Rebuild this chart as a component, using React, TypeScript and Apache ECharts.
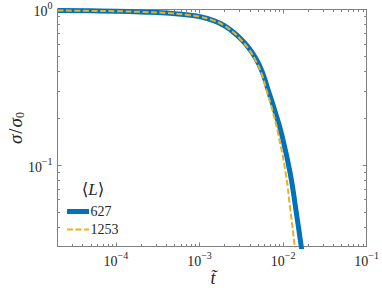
import React, { useEffect, useRef } from "react";
import * as echarts from "echarts";

// (log-log axes)
const tBlue = [2e-5, 5e-5, 1e-4, 2e-4, 4e-4, 7e-4, 1e-3, 1.5e-3, 2e-3, 2.5e-3, 3e-3, 3.8e-3, 4.66e-3, 5.6e-3, 6.64e-3, 8e-3, 9.55e-3, 0.01219, 0.01435, 0.01649, 0.0175];
const sBlue = [0.985, 0.98, 0.975, 0.965, 0.95, 0.925, 0.9, 0.845, 0.785, 0.72, 0.66, 0.575, 0.49, 0.4, 0.303, 0.222, 0.16, 0.088, 0.05, 0.03, 0.024];
const tOrange = [2e-5, 5e-5, 1e-4, 2e-4, 4e-4, 7e-4, 1e-3, 1.5e-3, 2e-3, 2.5e-3, 3e-3, 3.8e-3, 4.6e-3, 5.5e-3, 6.34e-3, 7.5e-3, 8.71e-3, 0.01077, 0.01219, 0.01377, 0.0145];
const sOrange = [0.985, 0.98, 0.975, 0.965, 0.95, 0.925, 0.9, 0.845, 0.785, 0.72, 0.655, 0.565, 0.48, 0.39, 0.303, 0.222, 0.16, 0.088, 0.052, 0.03, 0.023];
const legendNames = ["627", "1253"];
const xMajorExp = [-4, -3, -2, -1];
const yMajorExp = [-1, 0];
const xMin = 2e-5;
const xMax = 0.1;
const yMin = 0.03;
const yMax = 1;

const BLUE = "#0072BD";
const ORANGE = "#EDB120";
const AXIS = "#808080";
const TEXT = "#262626";
const SERIF = "'Liberation Serif', 'DejaVu Serif', serif";

const lg = (v: number) => Math.log10(v);

function minorTicks(lo: number, hi: number): number[] {
  const out: number[] = [];
  for (let e = -6; e <= 1; e++) {
    for (let k = 2; k <= 9; k++) {
      const v = k * Math.pow(10, e);
      if (v >= lo && v <= hi) out.push(lg(v));
    }
  }
  return out;
}

const fmtExp = (v: number) => {
  const e = Math.round(v);
  const s = e < 0 ? "\u2212" + Math.abs(e) : String(e);
  return `{b|10}{s|${s}}`;
};

const rich = {
  b: { fontSize: 14, fontFamily: SERIF, color: TEXT, lineHeight: 18, verticalAlign: "bottom" },
  s: { fontSize: 10, fontFamily: SERIF, color: TEXT, lineHeight: 10, verticalAlign: "top" },
};

export default function App() {
  const ref = useRef<HTMLDivElement>(null);
  useEffect(() => {
    if (!ref.current) return;
    const chart = echarts.init(ref.current, null, { renderer: "svg" });
    const xLo = lg(xMin), xHi = lg(xMax), yLo = lg(yMin), yHi = lg(yMax);
    const xMinor = minorTicks(xMin, xMax);
    const yMinor = minorTicks(yMin, yMax);
    const mkX = (pos: string, major: boolean, label: boolean, line: boolean) => ({
      type: "value",
      min: xLo,
      max: xHi,
      position: pos,
      splitLine: { show: false },
      axisLine: { show: line, onZero: false, lineStyle: { color: AXIS, width: 1 } },
      axisTick: {
        show: true,
        inside: true,
        length: major ? 4 : 2.5,
        lineStyle: { color: AXIS, width: 1 },
        customValues: major ? xMajorExp : xMinor,
      },
      axisLabel: label
        ? { show: true, color: TEXT, customValues: xMajorExp, formatter: fmtExp, rich, margin: 4, showMaxLabel: true, showMinLabel: true }
        : { show: false },
    });
    const mkY = (pos: string, major: boolean, label: boolean, line: boolean) => ({
      type: "value",
      min: yLo,
      max: yHi,
      position: pos,
      splitLine: { show: false },
      axisLine: { show: line, onZero: false, lineStyle: { color: AXIS, width: 1 } },
      axisTick: {
        show: true,
        inside: true,
        length: major ? 4 : 2.5,
        lineStyle: { color: AXIS, width: 1 },
        customValues: major ? yMajorExp : yMinor,
      },
      axisLabel: label
        ? { show: true, color: TEXT, customValues: yMajorExp, formatter: fmtExp, rich, margin: 5, showMaxLabel: true, showMinLabel: true }
        : { show: false },
    });
    chart.setOption({
      animation: false,
      grid: { left: 57.5, right: 13.5, top: 9.5, bottom: 41.5, containLabel: false },
      xAxis: [
        mkX("bottom", true, true, true),
        mkX("bottom", false, false, false),
        mkX("top", true, false, true),
        mkX("top", false, false, false),
      ],
      yAxis: [
        mkY("left", true, true, true),
        mkY("left", false, false, false),
        mkY("right", true, false, true),
        mkY("right", false, false, false),
      ],
      series: [
        {
          name: legendNames[0],
          type: "line",
          smooth: 0.5,
          showSymbol: false,
          symbol: "none",
          clip: true,
          lineStyle: { color: BLUE, width: 5 },
          data: tBlue.map((t, i) => [lg(t), lg(sBlue[i])]),
        },
        {
          name: legendNames[1],
          type: "line",
          smooth: 0.5,
          showSymbol: false,
          symbol: "none",
          clip: true,
          lineStyle: { color: ORANGE, width: 2, type: [6, 2.5] },
          data: tOrange.map((t, i) => [lg(t), lg(sOrange[i])]),
        },
      ],
      graphic: [
        {
          type: "text",
          x: 15,
          y: 128,
          rotation: Math.PI / 2,
          style: {
            text: "{i|σ}{n|/}{i|σ}{sub|0}",
            align: "center",
            verticalAlign: "middle",
            rich: {
              i: { fontSize: 19, fontFamily: SERIF, fontStyle: "italic", fill: TEXT, lineHeight: 22, verticalAlign: "middle" },
              n: { fontSize: 19, fontFamily: SERIF, fill: TEXT, lineHeight: 22, verticalAlign: "middle", padding: [0, 1, 0, 1] },
              sub: { fontSize: 12, fontFamily: SERIF, fill: TEXT, lineHeight: 12, verticalAlign: "bottom" },
            },
          },
        },
        {
          type: "text",
          x: 213,
          y: 278,
          style: {
            text: "t\u0303",
            align: "center",
            verticalAlign: "middle",
            font: `italic 18px ${SERIF}`,
            fill: TEXT,
          },
        },
        {
          type: "text",
          x: 93,
          y: 189,
          style: {
            text: "{n|\u27E8}{i|L}{n|\u27E9}",
            align: "center",
            verticalAlign: "middle",
            rich: {
              n: { fontSize: 17, fontFamily: "'DejaVu Serif', serif", fill: TEXT },
              i: { fontSize: 17, fontFamily: SERIF, fontStyle: "italic", fill: TEXT },
            },
          },
        },
        {
          type: "line",
          shape: { x1: 67, y1: 211.5, x2: 89, y2: 211.5 },
          style: { stroke: BLUE, lineWidth: 5 },
        },
        {
          type: "text",
          x: 90.5,
          y: 211.5,
          style: { text: legendNames[0], verticalAlign: "middle", font: `14px ${SERIF}`, fill: TEXT },
        },
        {
          type: "line",
          shape: { x1: 67, y1: 229.5, x2: 89, y2: 229.5 },
          style: { stroke: ORANGE, lineWidth: 2, lineDash: [6, 2.5] },
        },
        {
          type: "text",
          x: 90.5,
          y: 229.5,
          style: { text: legendNames[1], verticalAlign: "middle", font: `14px ${SERIF}`, fill: TEXT },
        },
      ],
    });
    return () => chart.dispose();
  }, []);
  return (
    <div
      ref={ref}
      style={{ position: "absolute", left: 0, top: 0, width: 382, height: 288, background: "#fff" }}
    />
  );
}
